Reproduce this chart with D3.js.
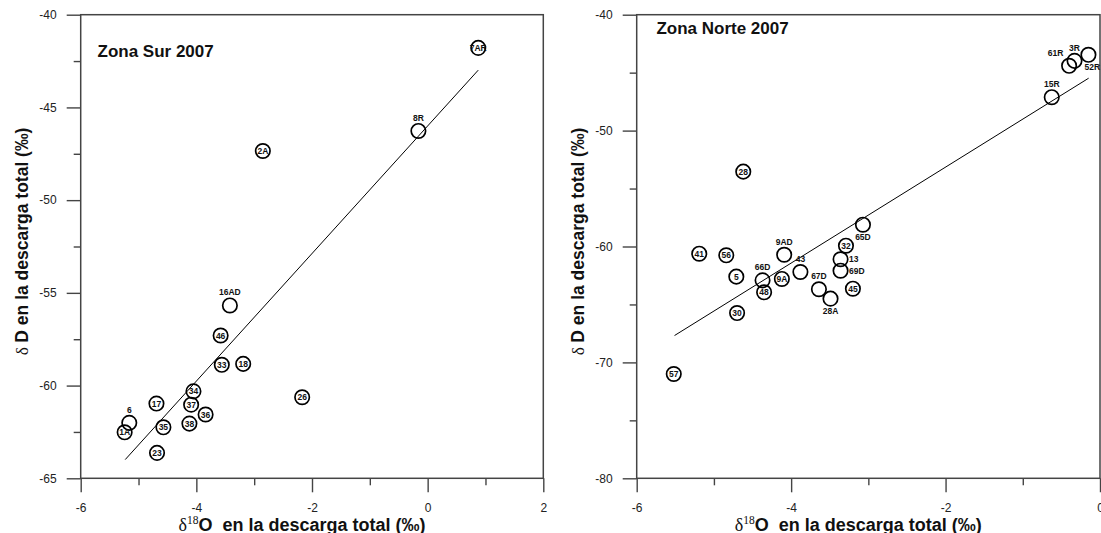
<!DOCTYPE html>
<html>
<head>
<meta charset="utf-8">
<script src="https://cdn.jsdelivr.net/npm/d3@7"></script>
<style>
  html, body { margin: 0; padding: 0; background: #fff; }
  svg { display: block; }
  text { font-family: "Liberation Sans", Arial, sans-serif; }
</style>
</head>
<body>
<svg id="chart" width="1101" height="533"></svg>
<script>
// ---------------- DATA ----------------
// Zona Sur 2007
const surLabels = ["7AR", "8R", "2A", "16AD", "46", "33", "18", "34", "26", "17", "37", "36", "6", "38", "35", "1A", "23"];
const surO18    = [0.875, -0.16, -2.85, -3.42, -3.58, -3.56, -3.19, -4.05, -2.17, -4.69, -4.09, -3.84, -5.16, -4.12, -4.57, -5.24, -4.68];
const surD      = [-41.79, -46.27, -47.35, -55.68, -57.30, -58.88, -58.83, -60.31, -60.63, -60.97, -61.03, -61.56, -62.01, -62.05, -62.25, -62.52, -63.63];
const surFitSlope = 3.44, surFitIntercept = -46.0, surFitRange = [-5.23, 0.875];

// Zona Norte 2007
const norteLabels = ["52R", "3R", "61R", "15R", "28", "65D", "32", "41", "9AD", "56", "13", "69D", "43", "5", "9A", "66D", "45", "67D", "48", "28A", "30", "57"];
const norteO18    = [-0.15, -0.33, -0.40, -0.625, -4.62, -3.07, -3.29, -5.19, -4.09, -4.84, -3.36, -3.36, -3.88, -4.71, -4.12, -4.37, -3.20, -3.64, -4.35, -3.49, -4.70, -5.52];
const norteD      = [-43.46, -43.98, -44.41, -47.12, -53.54, -58.12, -59.93, -60.62, -60.71, -60.76, -61.10, -62.09, -62.20, -62.60, -62.80, -62.92, -63.64, -63.69, -63.95, -64.50, -65.74, -71.00];
const norteFitSlope = 4.14, norteFitIntercept = -44.87, norteFitRange = [-5.51, -0.147];

// Axes ticks
const surXMajor = [-6, -4, -2, 0, 2], surXMinor = [-5, -3, -1, 1];
const surYMajor = [-40, -45, -50, -55, -60, -65], surYMinor = [-42.5, -47.5, -52.5, -57.5, -62.5];
const norteXMajor = [-6, -4, -2, 0], norteXMinor = [-5, -3, -1];
const norteYMajor = [-40, -50, -60, -70, -80], norteYMinor = [-45, -55, -65, -75];

// Label placement (annotation style, not data)
const surPlace = { "8R": "above", "16AD": "above", "6": "above" };
const nortePlace = { "52R": "belowright", "3R": "above", "61R": "aboveleft", "15R": "above", "65D": "below",
  "9AD": "above", "13": "right", "69D": "right", "43": "above", "66D": "above", "67D": "above", "28A": "below" };

// ---------------- DRAW ----------------
const svg = d3.select("#chart");
const TOP = 14.7, BOTTOM = 478.3;
const AX = "#444";

function panel(cfg) {
  const x = d3.scaleLinear().domain(cfg.xDomain).range([cfg.left, cfg.right]);
  const y = d3.scaleLinear().domain(cfg.yDomain).range([BOTTOM, TOP]);
  const g = svg.append("g");

  const styleAxis = sel => {
    sel.select(".domain").remove();
    sel.selectAll(".tick line").attr("stroke", AX).attr("stroke-width", 1.4);
    sel.selectAll(".tick text").attr("font-family", "Liberation Sans, Arial, sans-serif")
       .attr("font-size", 12).attr("fill", "#222");
  };

  // x axis
  g.append("g").attr("transform", `translate(0,${BOTTOM})`)
    .call(d3.axisBottom(x).tickValues(cfg.xMinor).tickSize(7).tickFormat(""))
    .call(styleAxis);
  g.append("g").attr("transform", `translate(0,${BOTTOM})`)
    .call(d3.axisBottom(x).tickValues(cfg.xMajor).tickSize(14).tickPadding(11.5).tickFormat(d => String(d)))
    .call(styleAxis);
  // y axis
  g.append("g").attr("transform", `translate(${cfg.left},0)`)
    .call(d3.axisLeft(y).tickValues(cfg.yMinor).tickSize(7).tickFormat(""))
    .call(styleAxis);
  g.append("g").attr("transform", `translate(${cfg.left},0)`)
    .call(d3.axisLeft(y).tickValues(cfg.yMajor).tickSize(14).tickPadding(10).tickFormat(d => String(d)))
    .call(styleAxis);

  // frame
  g.append("rect").attr("x", cfg.left).attr("y", TOP)
    .attr("width", cfg.right - cfg.left).attr("height", BOTTOM - TOP)
    .attr("fill", "none").attr("stroke", AX).attr("stroke-width", 1.5);

  // regression line
  const fx = cfg.fitRange;
  g.append("line")
    .attr("x1", x(fx[0])).attr("y1", y(cfg.slope * fx[0] + cfg.intercept))
    .attr("x2", x(fx[1])).attr("y2", y(cfg.slope * fx[1] + cfg.intercept))
    .attr("stroke", "#000").attr("stroke-width", 1);

  // points
  const pts = cfg.labels.map((l, i) => ({ l, vx: cfg.xs[i], vy: cfg.ys[i], p: cfg.place[l] || "in" }));
  const pg = g.append("g");
  pg.selectAll("circle").data(pts).join("circle")
    .attr("cx", d => x(d.vx)).attr("cy", d => y(d.vy)).attr("r", 7.2)
    .attr("fill", "none").attr("stroke", "#000").attr("stroke-width", 1.7);
  pg.selectAll("text").data(pts).join("text")
    .attr("font-size", 8.5).attr("font-weight", "bold").attr("fill", "#111")
    .attr("text-anchor", d => d.p === "right" ? "start" : "middle")
    .attr("x", d => {
      const cx = x(d.vx);
      if (d.p === "right") return cx + 8.5;
      if (d.p === "aboveleft") return cx - 13.5;
      if (d.p === "belowright") return cx + 4;
      return cx;
    })
    .attr("y", d => {
      const cy = y(d.vy);
      if (d.p === "above" || d.p === "aboveleft") return cy - 10;
      if (d.p === "below" || d.p === "belowright") return cy + 15.5;
      return cy + 3;
    })
    .text(d => d.l);

  // title
  g.append("text").attr("x", cfg.titleX).attr("y", cfg.titleY)
    .attr("font-size", 17).attr("font-weight", "bold").attr("fill", "#111").text(cfg.title);

  // x axis title
  const xt = g.append("text").attr("x", (cfg.left + cfg.right) / 2 - 10).attr("y", 530.5)
    .attr("text-anchor", "middle").attr("fill", "#111").style("white-space", "pre");
  xt.append("tspan").attr("font-family", "Liberation Serif, Times New Roman, serif").attr("font-size", 18).text("δ");
  xt.append("tspan").attr("font-family", "Liberation Serif, Times New Roman, serif").attr("font-size", 11.5).attr("dy", -6.5).text("18");
  xt.append("tspan").attr("font-size", 18).attr("font-weight", "bold").attr("dy", 6.5).text("O  en la descarga total (‰)");

  // y axis title
  const yc = (TOP + BOTTOM) / 2 - 5;
  const yt = g.append("text").attr("transform", `translate(${cfg.left - 53},${yc}) rotate(-90)`)
    .attr("text-anchor", "middle").attr("fill", "#111").style("white-space", "pre");
  yt.append("tspan").attr("font-family", "Liberation Serif, Times New Roman, serif").attr("font-size", 17.5).text("δ ");
  yt.append("tspan").attr("font-size", 17.5).attr("font-weight", "bold").text("D en la descarga total (‰)");
}

panel({
  left: 80.7, right: 543.3, xDomain: [-6, 2], yDomain: [-65, -40],
  xMajor: surXMajor, xMinor: surXMinor, yMajor: surYMajor, yMinor: surYMinor,
  labels: surLabels, xs: surO18, ys: surD, place: surPlace,
  slope: surFitSlope, intercept: surFitIntercept, fitRange: surFitRange,
  title: "Zona Sur 2007", titleX: 97.5, titleY: 57
});
panel({
  left: 636.7, right: 1100, xDomain: [-6, 0], yDomain: [-80, -40],
  xMajor: norteXMajor, xMinor: norteXMinor, yMajor: norteYMajor, yMinor: norteYMinor,
  labels: norteLabels, xs: norteO18, ys: norteD, place: nortePlace,
  slope: norteFitSlope, intercept: norteFitIntercept, fitRange: norteFitRange,
  title: "Zona Norte 2007", titleX: 656.4, titleY: 33.5
});
</script>
</body>
</html>
